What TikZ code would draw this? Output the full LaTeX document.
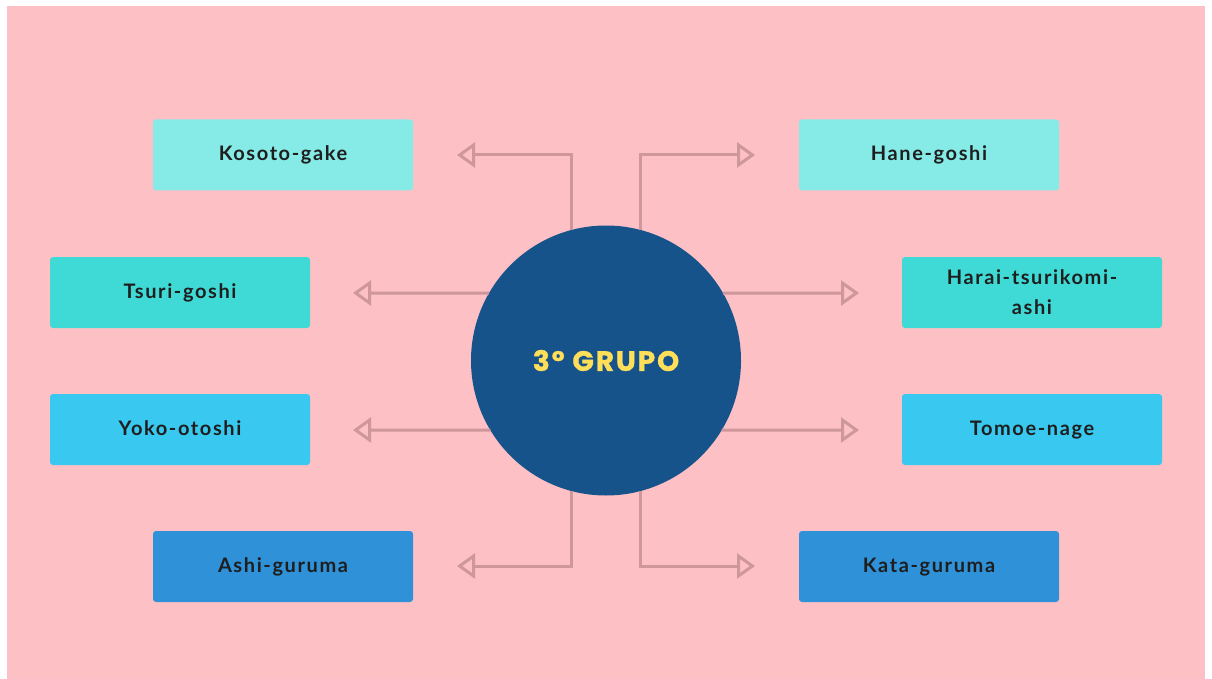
\documentclass[tikz,border=0pt]{standalone}
\usepackage{fontspec}
\usetikzlibrary{arrows.meta}
\newfontfamily\boxfont[LetterSpace=8]{Lato}
\newfontfamily\grpfont[LetterSpace=7,FakeBold=1.2]{Poppins}
\definecolor{bgpink}{RGB}{253,192,196}
\definecolor{cyanA}{RGB}{134,234,230}
\definecolor{cyanB}{RGB}{64,218,214}
\definecolor{cyanC}{RGB}{56,200,240}
\definecolor{blueD}{RGB}{47,145,216}
\definecolor{circblue}{RGB}{22,83,138}
\definecolor{grpyellow}{RGB}{255,222,89}
\definecolor{arrowcol}{RGB}{206,151,156}
\definecolor{txtdark}{RGB}{30,30,30}
\tikzset{
  techbox/.style={rectangle, rounded corners=3pt, minimum width=260pt, minimum height=71pt,
    inner sep=0pt, text=txtdark, font=\boxfont\bfseries\fontsize{20}{30}\selectfont, align=center},
  conn/.style={draw=arrowcol, line width=3pt,
    -{Triangle[open, length=18pt, width=25pt, line width=3pt]}},
}
\begin{document}
\begin{tikzpicture}[x=1pt,y=-1pt]
\useasboundingbox (0,0) rectangle (1212,679);
\fill[white] (0,0) rectangle (1212,679);
\fill[bgpink] (7,6) rectangle (1205,679);

% boxes
\node[techbox, fill=cyanA] (kosoto) at (283,155) {\strut Kosoto-gake};
\node[techbox, fill=cyanA] (hane)   at (929,155) {\strut Hane-goshi};
\node[techbox, fill=cyanB] (tsuri)  at (180,292.5) {\strut Tsuri-goshi};
\node[techbox, fill=cyanB] (harai)  at (1032,292.5) {Harai-tsurikomi-\\ashi};
\node[techbox, fill=cyanC] (yoko)   at (180,429.5) {\strut Yoko-otoshi};
\node[techbox, fill=cyanC] (tomoe)  at (1032,429.5) {\strut Tomoe-nage};
\node[techbox, fill=blueD] (ashi)   at (283,566.5) {\strut Ashi-guruma};
\node[techbox, fill=blueD] (kata)   at (929,566.5) {\strut Kata-guruma};

% centre circle
\node[circle, fill=circblue, minimum size=270pt, inner sep=0pt, outer sep=0pt,
      text=grpyellow, font=\grpfont\bfseries\fontsize{28}{30}\selectfont] (c) at (606,360.5) {3º GRUPO};

% arrow tips
\coordinate (tKosoto) at (457,155);
\coordinate (tHane)   at (755,155);
\coordinate (tTsuri)  at (353,293);
\coordinate (tHarai)  at (859,293);
\coordinate (tYoko)   at (353,430);
\coordinate (tTomoe)  at (859,430);
\coordinate (tAshi)   at (457,566);
\coordinate (tKata)   at (755,566);

% connectors
\draw[conn] (c.105) |- (tKosoto);
\draw[conn] (c.75)  |- (tHane);
\draw[conn] (c.150) -- (tTsuri);
\draw[conn] (c.30)  -- (tHarai);
\draw[conn] (c.211) -- (tYoko);
\draw[conn] (c.329) -- (tTomoe);
\draw[conn] (c.255) |- (tAshi);
\draw[conn] (c.285) |- (tKata);
\end{tikzpicture}
\end{document}
